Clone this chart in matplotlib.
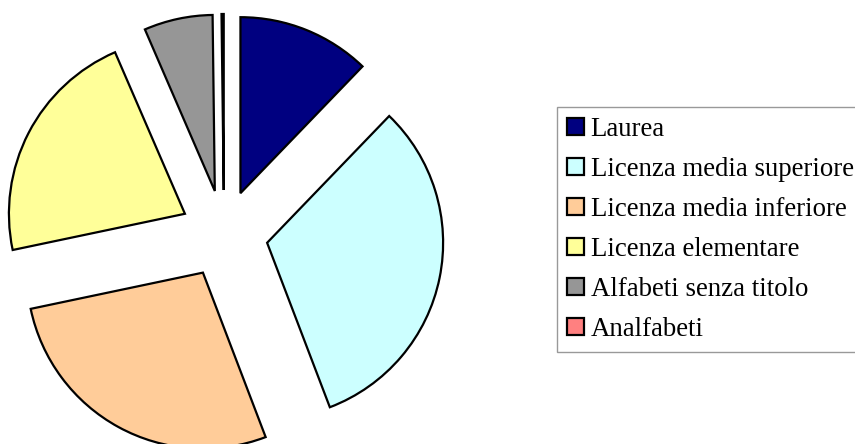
import matplotlib.pyplot as plt
from matplotlib.patches import Patch

labels = ['Laurea', 'Licenza media superiore', 'Licenza media inferiore',
          'Licenza elementare', 'Alfabeti senza titolo', 'Analfabeti']
values = [12.2, 32.0, 27.5, 21.8, 6.3, 0.2]
colors = ['#000080', '#CCFFFF', '#FFCC99', '#FFFF99', '#969696', '#FF8080']

plt.rcParams['font.family'] = 'Liberation Serif'

fig = plt.figure(figsize=(8.55, 4.44), dpi=100)
ax = fig.add_axes([0, 0, 1, 1])

# explode is in data units here (pixels)
ax.pie(values, colors=colors, startangle=90, counterclock=False,
       center=(224, 210), radius=176, explode=[44] * len(values),
       wedgeprops=dict(edgecolor='black', linewidth=1.6))
ax.set_xlim(0, 855)
ax.set_ylim(0, 444)
ax.set_aspect('equal')
ax.axis('off')

handles = [Patch(facecolor=c, edgecolor='black', linewidth=1.6) for c in colors]
leg = fig.legend(handles, labels, loc='upper left',
                 bbox_to_anchor=(557 / 855, 1 - 107 / 444),
                 fontsize=19.3, frameon=True, fancybox=False,
                 handlelength=0.63, handleheight=0.63, handletextpad=0.25,
                 labelspacing=0.56, borderpad=0.37, borderaxespad=0)
leg.get_frame().set_edgecolor('#808080')
leg.get_frame().set_linewidth(1.0)

fig.savefig('out.png', dpi=100)
